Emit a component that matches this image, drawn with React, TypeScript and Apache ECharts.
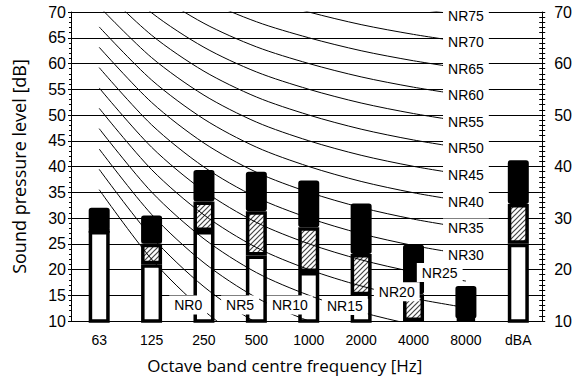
import React, { useEffect, useRef } from "react";
import * as echarts from "echarts";

const categories = ["63", "125", "250", "500", "1000", "2000", "4000", "8000", "dBA"];
const whiteTop = [27.5, 21, 27.5, 22.7, 19.5, 15, 10, 10, 25];
const hatchTop = [27.5, 25, 33.2, 31.3, 28.2, 23, 15.2, 10.5, 32.7];
const barTop = [32, 30.5, 39.3, 39, 37.3, 32.8, 24.8, 16.8, 41.2];

const nrNames = ["NR0", "NR5", "NR10", "NR15", "NR20", "NR25", "NR30", "NR35", "NR40", "NR45", "NR50", "NR55", "NR60", "NR65", "NR70", "NR75"];
const nr0 = [35.5, 22, 12, 4.8, 0, -3.5, -6.1, -8];
const nr5 = [39.45, 26.35, 16.65, 9.67, 5, 1.58, -0.98, -2.85];
const nr10 = [43.4, 30.7, 21.3, 14.54, 10, 6.65, 4.15, 2.3];
const nr15 = [47.35, 35.05, 25.95, 19.41, 15, 11.73, 9.28, 7.45];
const nr20 = [51.3, 39.4, 30.6, 24.28, 20, 16.8, 14.4, 12.6];
const nr25 = [55.25, 43.75, 35.25, 29.15, 25, 21.88, 19.53, 17.75];
const nr30 = [59.2, 48.1, 39.9, 34.02, 30, 26.95, 24.65, 22.9];
const nr35 = [63.15, 52.45, 44.55, 38.89, 35, 32.03, 29.78, 28.05];
const nr40 = [67.1, 56.8, 49.2, 43.76, 40, 37.1, 34.9, 33.2];
const nr45 = [71.05, 61.15, 53.85, 48.63, 45, 42.18, 40.03, 38.35];
const nr50 = [75, 65.5, 58.5, 53.5, 50, 47.25, 45.15, 43.5];
const nr55 = [78.95, 69.85, 63.15, 58.37, 55, 52.33, 50.28, 48.65];
const nr60 = [82.9, 74.2, 67.8, 63.24, 60, 57.4, 55.4, 53.8];
const nr65 = [86.85, 78.55, 72.45, 68.11, 65, 62.48, 60.53, 58.95];
const nr70 = [90.8, 82.9, 77.1, 72.98, 70, 67.55, 65.65, 64.1];
const nr75 = [94.75, 87.25, 81.75, 77.85, 75, 72.63, 70.78, 69.25];
const nrCurves = [nr0, nr5, nr10, nr15, nr20, nr25, nr30, nr35, nr40, nr45, nr50, nr55, nr60, nr65, nr70, nr75];

// label anchor positions (category index units, dB)
const nrLabelX = [1.7, 2.69, 3.64, 4.69, 5.68, 6.5, 7, 7, 7, 7, 7, 7, 7, 7, 7, 7];
const nrLabelY = [13.1, 13.1, 13.1, 13.0, 15.7, 19.4, 22.9, 28.05, 33.2, 38.35, 43.5, 48.65, 53.8, 58.95, 64.1, 69.25];

const yMin = 10;
const yMax = 70;

function makeHatch(): HTMLCanvasElement {
  const s = 5;
  const c = document.createElement("canvas");
  c.width = s;
  c.height = s;
  const ctx = c.getContext("2d")!;
  ctx.fillStyle = "#ffffff";
  ctx.fillRect(0, 0, s, s);
  ctx.strokeStyle = "#444444";
  ctx.lineWidth = 1.2;
  ctx.beginPath();
  ctx.moveTo(-1, s + 1);
  ctx.lineTo(s + 1, -1);
  ctx.moveTo(-1, 1);
  ctx.lineTo(1, -1);
  ctx.moveTo(s - 1, s + 1);
  ctx.lineTo(s + 1, s - 1);
  ctx.stroke();
  return c;
}

export default function App() {
  const ref = useRef<HTMLDivElement>(null);
  useEffect(() => {
    if (!ref.current) return;
    const chart = echarts.init(ref.current, null, { renderer: "svg" });
    const hatch = makeHatch();
    const tickFont = "'Liberation Sans', Arial, sans-serif";
    const titleFont = "'Open Sans', sans-serif";
    const barCommon = {
      type: "bar",
      stack: "s",
      barWidth: 21,
      xAxisIndex: 1,
      yAxisIndex: 4,
      silent: true,
      z: 2,
    };
    const option: any = {
      animation: false,
      grid: [
        { left: 71, right: 32, top: 12, bottom: 64, containLabel: false },
        { left: 73, right: 30.5, top: 12, bottom: 64, containLabel: false },
      ],
      xAxis: [
        {
          gridIndex: 0,
          type: "category",
          data: categories,
          boundaryGap: true,
          axisLine: { lineStyle: { color: "#000", width: 1 } },
          axisTick: { show: false },
          axisLabel: { show: false },
          splitLine: { show: false },
        },
        {
          gridIndex: 1,
          type: "category",
          data: categories,
          boundaryGap: true,
          axisLine: { show: false },
          axisTick: { show: false },
          axisLabel: { color: "#000", fontSize: 14, fontFamily: tickFont, margin: 12 },
          splitLine: { show: false },
          name: "Octave band centre frequency [Hz]",
          nameLocation: "middle",
          nameGap: 36,
          nameTextStyle: { color: "#000", fontSize: 17, fontFamily: titleFont, padding: [0, 48, 0, 0] },
        },
        { gridIndex: 1, type: "value", min: -0.5, max: 8.5, show: false },
      ],
      yAxis: [
        {
          gridIndex: 0,
          type: "value",
          position: "left",
          min: yMin,
          max: yMax,
          interval: 5,
          axisLine: { show: true, lineStyle: { color: "#000", width: 1 } },
          axisTick: { show: true, length: 3, lineStyle: { color: "#000" } },
          minorTick: { show: true, splitNumber: 5, length: 2, lineStyle: { color: "#000" } },
          axisLabel: { color: "#000", fontSize: 16, fontFamily: tickFont, margin: 5 },
          splitLine: { show: true, lineStyle: { color: "#000", width: 1 } },
          name: "Sound pressure level [dB]",
          nameLocation: "middle",
          nameGap: 43,
          nameRotate: 90,
          nameTextStyle: { color: "#000", fontSize: 18, fontFamily: titleFont },
        },
        {
          gridIndex: 0,
          type: "value",
          position: "left",
          min: yMin,
          max: yMax,
          interval: 5,
          axisLine: { show: false },
          axisTick: { show: true, inside: true, length: 2, lineStyle: { color: "#000" } },
          minorTick: { show: true, splitNumber: 5, length: 1, lineStyle: { color: "#000" } },
          axisLabel: { show: false },
          splitLine: { show: false },
        },
        {
          gridIndex: 0,
          type: "value",
          position: "right",
          min: yMin,
          max: yMax,
          interval: 10,
          axisLine: { show: true, lineStyle: { color: "#000", width: 1 } },
          axisTick: { show: true, length: 3, lineStyle: { color: "#000" } },
          minorTick: { show: true, splitNumber: 10, length: 3, lineStyle: { color: "#000" } },
          axisLabel: { color: "#000", fontSize: 16, fontFamily: tickFont, margin: 12 },
          splitLine: { show: false },
        },
        {
          gridIndex: 0,
          type: "value",
          position: "right",
          min: yMin,
          max: yMax,
          interval: 10,
          axisLine: { show: false },
          axisTick: { show: true, inside: true, length: 3, lineStyle: { color: "#000" } },
          minorTick: { show: true, splitNumber: 10, length: 3, lineStyle: { color: "#000" } },
          axisLabel: { show: false },
          splitLine: { show: false },
        },
        {
          gridIndex: 1,
          type: "value",
          min: yMin,
          max: yMax,
          show: false,
          splitLine: { show: false },
        },
      ],
      series: [
        {
          ...barCommon,
          name: "white",
          data: whiteTop,
          itemStyle: { color: "#fff", borderColor: "#000", borderWidth: 3.5 },
        },
        {
          ...barCommon,
          name: "hatch",
          data: hatchTop.map((v, i) => v - whiteTop[i]),
          itemStyle: { color: { image: hatch, repeat: "repeat" }, borderColor: "#000", borderWidth: 3.5 },
        },
        {
          ...barCommon,
          name: "black",
          data: barTop.map((v, i) => v - hatchTop[i]),
          itemStyle: { color: "#000", borderColor: "#000", borderWidth: 3.5, borderRadius: 1 },
        },
        ...nrCurves.map((c, i) => ({
          type: "line",
          name: nrNames[i],
          data: c,
          xAxisIndex: 1,
          yAxisIndex: 4,
          smooth: 0.3,
          symbol: "none",
          clip: true,
          silent: true,
          z: 3,
          lineStyle: { color: "#000", width: 1 },
        })),
        {
          type: "scatter",
          name: "labels",
          xAxisIndex: 2,
          yAxisIndex: 4,
          symbol: "rect",
          symbolSize: 0.5,
          silent: true,
          z: 10,
          itemStyle: { color: "#fff", opacity: 1 },
          data: nrLabelX.map((x, i) => ({ value: [x, nrLabelY[i]], name: nrNames[i] })),
          label: {
            show: true,
            position: "inside",
            formatter: "{b}",
            color: "#000",
            opacity: 1,
            textBorderWidth: 0,
            fontSize: 14,
            fontFamily: tickFont,
            backgroundColor: "#ffffff",
            padding: [3, 5, 2, 5],
          },
        },
      ],
    };
    chart.setOption(option);
    return () => chart.dispose();
  }, []);
  return (
    <div
      ref={ref}
      style={{ position: "fixed", left: 0, top: 0, width: 575, height: 385, background: "#fff" }}
    />
  );
}
